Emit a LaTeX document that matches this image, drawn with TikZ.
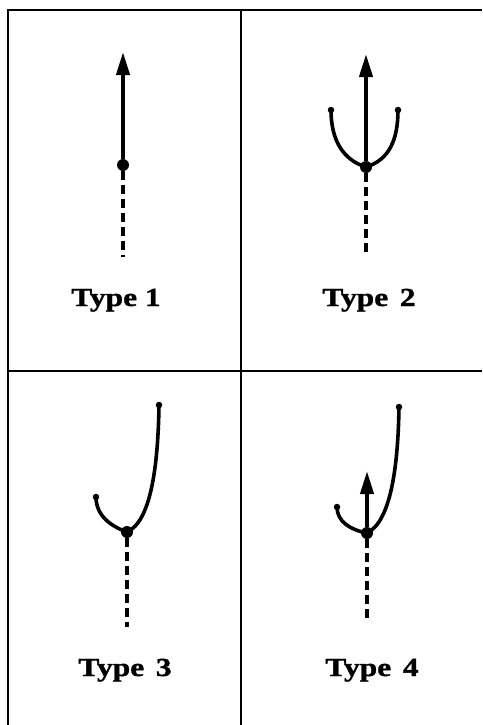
\documentclass[tikz,border=0pt]{standalone}
\usepackage{fontspec}
\newfontfamily\typefont[FakeStretch=1.21,FakeBold=1.2]{Liberation Serif}
\usetikzlibrary{arrows.meta,positioning}

\begin{document}
\begin{tikzpicture}[x=1pt,y=-1pt,>={Triangle[length=23pt,width=13pt]},
  every node/.style={font=\typefont\bfseries\fontsize{26}{30}\selectfont},
  joint/.style={circle,fill,inner sep=0pt,minimum size=12pt},
  tipdot/.style={circle,fill,inner sep=0pt,minimum size=6.5pt},
  stem/.style={line width=4pt},arm/.style={line width=3.6pt},
  tail/.style={line width=3.2pt,dash pattern=on 9pt off 5pt},
  frame/.style={line width=2pt}]
\useasboundingbox (0,0) rectangle (482,725);
% frame
\draw[frame] (8,725)--(8,10)--(482,10);\draw[frame] (241,10)--(241,725);\draw[frame] (8,371)--(482,371);
% type 1
\node[joint] (j1) at (123,165) {};\coordinate (t1) at (123,52);\coordinate (d1) at (123,257);
\draw[stem,->] (j1)--(t1);\draw[tail] (j1)--(d1);
\node[anchor=base] (l1) at (116,306) {Type 1};
% type 2
\node[joint] (j2) at (366,167) {};\coordinate (t2) at (366,54);\coordinate (d2) at (366,253);
\node[tipdot] (a2) at (331,110) {};\node[tipdot] (b2) at (398,110) {};
\draw[stem,->] (j2)--(t2);\draw[tail] (j2)--(d2);
\draw[arm] (a2.center) .. controls (331,140) and (343,160) .. (j2.center);
\draw[arm] (b2.center) .. controls (398,140) and (389,160) .. (j2.center);
\node[anchor=base] (l2) at (369,306) {Type\hspace{0.45em}2};
% type 3
\node[joint] (j3) at (127,532) {};\coordinate (d3) at (127,627);
\node[tipdot] (a3) at (96,497) {};\node[tipdot] (b3) at (159,405) {};
\draw[tail] (j3)--(d3);
\draw[arm] (a3.center) .. controls (96,515) and (110,526) .. (j3.center);
\draw[arm] (j3.center) .. controls (150,522) and (158,470) .. (b3.center);
\node[anchor=base] (l3) at (125,676) {Type\hspace{0.45em}3};
% type 4
\node[joint] (j4) at (367,533) {};\coordinate (t4) at (367,471);\coordinate (d4) at (367,622);
\node[tipdot] (a4) at (337,507) {};\node[tipdot] (b4) at (399,407) {};
\draw[stem,->] (j4)--(t4);\draw[tail] (j4)--(d4);
\draw[arm] (a4.center) .. controls (337,522) and (351,530) .. (j4.center);
\draw[arm] (j4.center) .. controls (390,522) and (398,470) .. (b4.center);
\node[anchor=base] (l4) at (372,676) {Type\hspace{0.45em}4};
\end{tikzpicture}
\end{document}
